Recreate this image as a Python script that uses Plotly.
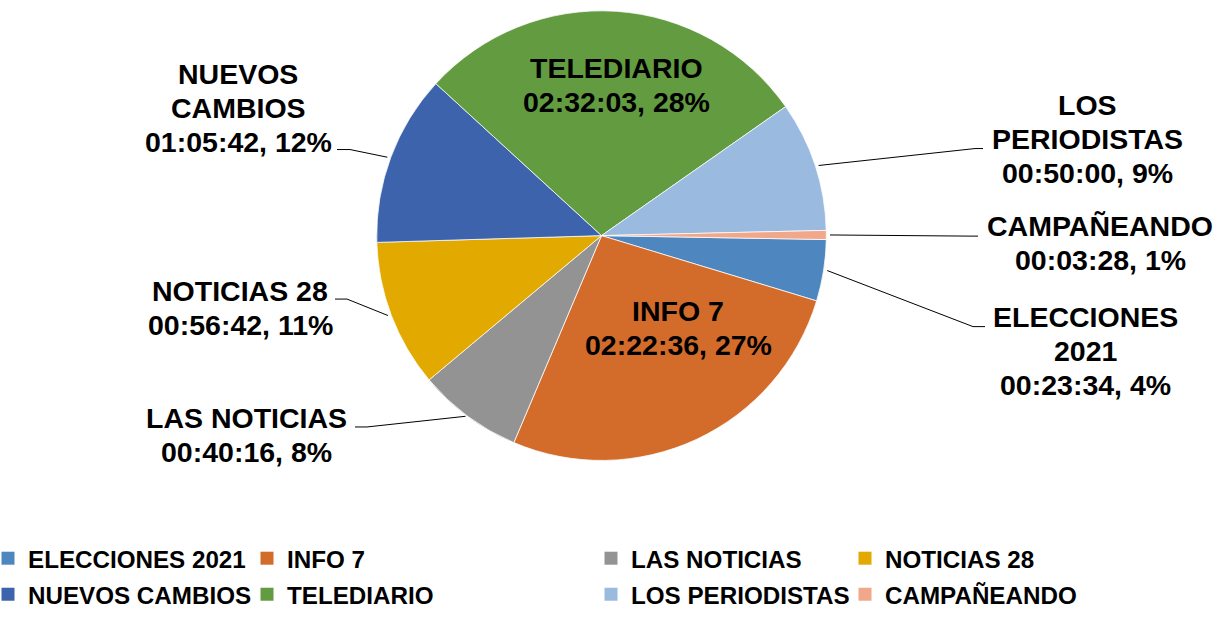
import math
import plotly.graph_objects as go

# ---------------- data ----------------
programs = ["ELECCIONES 2021", "INFO 7", "LAS NOTICIAS", "NOTICIAS 28",
            "NUEVOS CAMBIOS", "TELEDIARIO", "LOS PERIODISTAS", "CAMPAÑEANDO"]
durations = ["00:23:34", "02:22:36", "00:40:16", "00:56:42",
             "01:05:42", "02:32:03", "00:50:00", "00:03:28"]
colors = ["#4E86BF", "#D36C2B", "#939393", "#E2A900",
          "#3D63AC", "#629B40", "#9BBADF", "#F1A78A"]


def to_seconds(s):
    h, m, sec = (int(p) for p in s.split(":"))
    return h * 3600 + m * 60 + sec


seconds = [to_seconds(d) for d in durations]
total = sum(seconds)
percents = [round(100 * s / total) for s in seconds]

# ---------------- layout constants ----------------
W, H = 1219, 617
CX, CY, R = 601.5, 239.5, 228.5
ROTATION = 91
FONT = "Liberation Sans, Arial, sans-serif"
LABEL_SIZE = 28.5
LINE_STEP = 34.5
LEG_SIZE = 24.2


def px(x):
    return x / W


def py(y):
    return 1 - y / H


# label placement (pixel positions of the text blocks and leader elbows)
label_style = {
    "ELECCIONES 2021": dict(x=1085.5, y0=322.5, wrap=True, leader=[(985, 332), (973, 332)]),
    "INFO 7": dict(x=678.3, y0=316.3, wrap=False, leader=None),
    "LAS NOTICIAS": dict(x=246.7, y0=425, wrap=False, leader=[(355, 434), (367, 434)]),
    "NOTICIAS 28": dict(x=240, y0=296.3, wrap=False, leader=[(335, 304), (347, 304)]),
    "NUEVOS CAMBIOS": dict(x=238, y0=75, wrap=True, leader=[(337, 152), (350, 152)]),
    "TELEDIARIO": dict(x=616.7, y0=69.3, wrap=False, leader=None),
    "LOS PERIODISTAS": dict(x=1087.5, y0=106.7, wrap=True, leader=[(983, 151), (975, 151)]),
    "CAMPAÑEANDO": dict(x=1100, y0=230, wrap=False, leader=[(978, 240), (970, 240)]),
}

fig = go.Figure()

fig.add_trace(go.Pie(
    labels=programs,
    values=seconds,
    customdata=durations,
    marker=dict(colors=colors, line=dict(color="white", width=0.75)),
    sort=False,
    direction="clockwise",
    rotation=ROTATION,
    textinfo="none",
    showlegend=False,
    hovertemplate="%{label}<br>%{customdata}, %{percent}<extra></extra>",
    domain=dict(x=[px(CX - R), px(CX + R)], y=[py(CY + R), py(CY - R)]),
))

annotations = []
shapes = []
cum = 0
for name, dur, sec, pct in zip(programs, durations, seconds, percents):
    mid = math.radians(ROTATION + 360 * (cum + sec / 2) / total)
    cum += sec
    st = label_style[name]
    lines = (name.split(" ") if st["wrap"] else [name]) + [f"{dur}, {pct}%"]
    for i, t in enumerate(lines):
        annotations.append(dict(
            text=t, x=px(st["x"]), y=py(st["y0"] + i * LINE_STEP),
            xref="paper", yref="paper", xanchor="center", yanchor="middle",
            showarrow=False,
            font=dict(family=FONT, size=LABEL_SIZE, color="black", weight="bold"),
        ))
    if st["leader"]:
        ex = CX + R * math.sin(mid)
        ey = CY - R * math.cos(mid)
        pts = st["leader"] + [(ex, ey)]
        path = "M " + " L ".join(f"{px(x):.5f},{py(y):.5f}" for x, y in pts)
        shapes.append(dict(type="path", path=path, xref="paper", yref="paper",
                           line=dict(color="black", width=1)))

# legend: four columns x two rows, each entry in its own legend box
col_left = [0, 259, 603, 857]
col_indent = [-12, -12, -12, -12]
row_top = [544.8, 581.5]
legend_layouts = {}
for i, (name, col) in enumerate(zip(programs, colors)):
    lid = "legend" if i == 0 else f"legend{i + 1}"
    c, r = i % 4, i // 4
    fig.add_trace(go.Scatter(
        x=[None], y=[None], mode="markers", name=name,
        marker=dict(symbol="square", size=13, color=col),
        legend=lid, showlegend=True, hoverinfo="skip",
    ))
    legend_layouts[lid] = dict(
        x=px(col_left[c]), y=py(row_top[r]), xanchor="left", yanchor="top",
        orientation="v", bgcolor="rgba(0,0,0,0)", borderwidth=0,
        indentation=col_indent[c],
        font=dict(family=FONT, size=LEG_SIZE, color="black", weight="bold"),
    )

fig.update_layout(
    width=W, height=H,
    margin=dict(l=0, r=0, t=0, b=0),
    paper_bgcolor="white", plot_bgcolor="white",
    xaxis=dict(visible=False), yaxis=dict(visible=False),
    annotations=annotations, shapes=shapes,
    **legend_layouts,
)

fig.write_html(
    "out.html",
    config={"displayModeBar": False},
    post_script="document.body.style.margin='0';document.body.style.overflow='hidden';",
)
